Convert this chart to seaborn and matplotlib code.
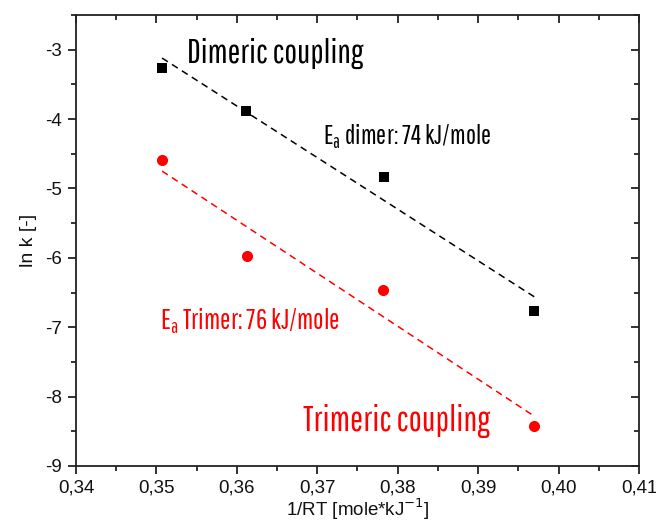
import numpy as np
import pandas as pd
import matplotlib
matplotlib.use("Agg")
import matplotlib.pyplot as plt
from matplotlib.ticker import MultipleLocator, FuncFormatter
import seaborn as sns

# Arrhenius data: inverse thermal energy vs. log rate constant
inv_rt = [0.3507, 0.3611, 0.3783, 0.3970]
ln_k_dimer = [-3.27, -3.88, -4.83, -6.77]
inv_rt_trimer = [0.3507, 0.3613, 0.3782, 0.3970]
ln_k_trimer = [-4.59, -5.97, -6.46, -8.42]

dimer = pd.DataFrame({"x": inv_rt, "y": ln_k_dimer})
trimer = pd.DataFrame({"x": inv_rt_trimer, "y": ln_k_trimer})

sns.set_style("white")
plt.rcParams["font.family"] = ["Liberation Sans", "DejaVu Sans"]
narrow = ["Pathway Gothic One", "DejaVu Sans"]

fig = plt.figure(figsize=(6.56, 5.24), dpi=100)
ax = fig.add_axes([0.1159, 0.1107, 0.8581, 0.8607])

red = "#ff0000"
dash = (0, (4.5, 3.2))
sns.regplot(data=dimer, x="x", y="y", ax=ax, scatter=False, ci=None,
            line_kws=dict(color="black", lw=1.1, ls=dash))
sns.regplot(data=trimer, x="x", y="y", ax=ax, scatter=False, ci=None,
            line_kws=dict(color=red, lw=1.1, ls=dash))
sns.scatterplot(data=dimer, x="x", y="y", ax=ax, marker="s", s=42,
                color="black", edgecolor="black", linewidth=0, zorder=3)
sns.scatterplot(data=trimer, x="x", y="y", ax=ax, marker="o", s=64,
                color=red, edgecolor=red, linewidth=0, zorder=3)

ax.set_xlim(0.34, 0.41)
ax.set_ylim(-9, -2.5)
ax.xaxis.set_major_locator(MultipleLocator(0.01))
ax.xaxis.set_minor_locator(MultipleLocator(0.005))
ax.yaxis.set_major_locator(MultipleLocator(1))
ax.yaxis.set_minor_locator(MultipleLocator(0.5))
ax.xaxis.set_major_formatter(FuncFormatter(lambda v, p: f"{v:.2f}".replace(".", ",")))
ax.yaxis.set_major_formatter(FuncFormatter(lambda v, p: f"{v:.0f}"))

edge = "#222222"
for side in ["left", "right", "top", "bottom"]:
    ax.spines[side].set_color(edge)
    ax.spines[side].set_linewidth(1.3)

ax.tick_params(axis="both", which="both", color=edge, width=1.3,
               labelsize=13.5, labelcolor="#111111")
ax.tick_params(axis="both", which="major", length=6, direction="out",
               bottom=True, left=True, pad=4)
ax.tick_params(axis="both", which="minor", length=3.5, direction="out",
               bottom=True, left=True)
# Mirror ticks on the top and right edges, pointing inward
ax2 = ax.twinx()
ax2.set_ylim(ax.get_ylim())
ax2.yaxis.set_major_locator(MultipleLocator(1))
ax2.yaxis.set_minor_locator(MultipleLocator(0.5))
ax2.tick_params(axis="y", which="major", direction="in", length=6, width=1.3,
                color=edge, labelright=False, right=True)
ax2.tick_params(axis="y", which="minor", direction="in", length=3.5, width=1.3,
                color=edge, labelright=False, right=True)
ax3 = ax.twiny()
ax3.set_xlim(ax.get_xlim())
ax3.xaxis.set_major_locator(MultipleLocator(0.01))
ax3.xaxis.set_minor_locator(MultipleLocator(0.005))
ax3.tick_params(axis="x", which="major", direction="in", length=6, width=1.3,
                color=edge, labeltop=False, top=True)
ax3.tick_params(axis="x", which="minor", direction="in", length=3.5, width=1.3,
                color=edge, labeltop=False, top=True)
for a in (ax2, ax3):
    for s in a.spines.values():
        s.set_visible(False)

ax.set_xlabel("1/RT [mole*kJ$^{-1}$]", fontsize=13.5, labelpad=0, color="#111111")
ax.set_ylabel("ln k [-]", fontsize=14, labelpad=6, color="#111111")

ax.text(0.3538, -3.05, "Dimeric coupling", family=narrow, fontsize=24.5,
        color="black", va="center", ha="left")
ax.text(0.3707, -4.25, "E$_\\mathregular{a}$ dimer: 74 kJ/mole", family=narrow,
        fontsize=19.3, color="black", va="center", ha="left")
ax.text(0.3505, -6.91, "E$_\\mathregular{a}$ Trimer: 76 kJ/mole", family=narrow,
        fontsize=20, color=red, va="center", ha="left")
ax.text(0.3682, -8.35, "Trimeric coupling", family=narrow, fontsize=25,
        color=red, va="center", ha="left")

fig.savefig("out.png", dpi=100)
